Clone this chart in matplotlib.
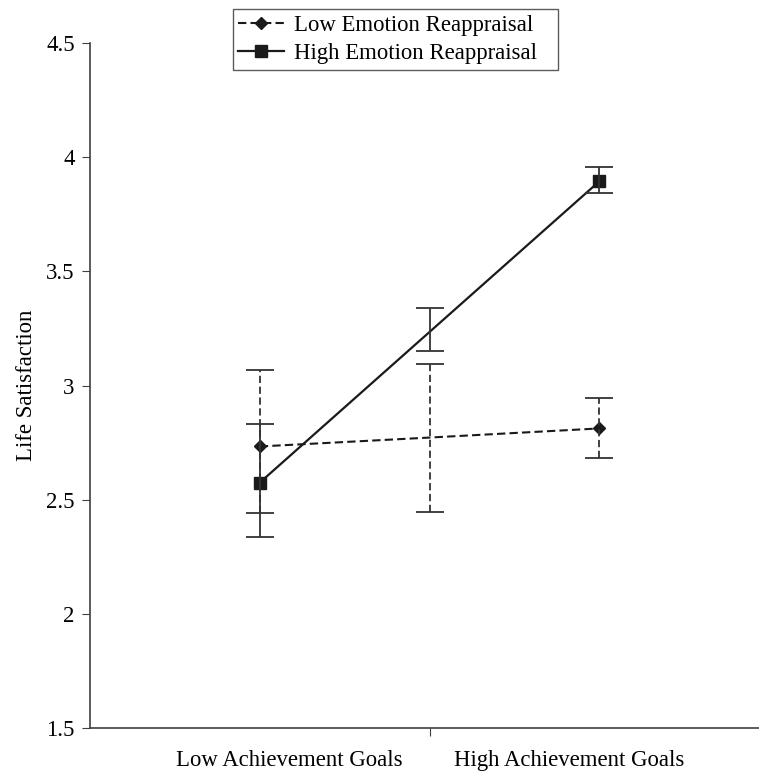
import matplotlib
matplotlib.use("Agg")
import matplotlib.pyplot as plt
import numpy as np

plt.rcParams['font.family'] = ['Liberation Serif', 'DejaVu Serif']

# x positions: low goals, midpoint, high goals
x_pos = [0, 0.5, 1]
categories = ['Low Achievement Goals', 'High Achievement Goals']

# Low emotion reappraisal (dashed)
low_er = [2.733, 2.772, 2.812]
low_er_lo = [2.44, 2.448, 2.681]
low_er_hi = [3.067, 3.096, 2.946]

# High emotion reappraisal (solid)
high_er = [2.575, 3.235, 3.895]
high_er_lo = [2.337, 3.153, 3.844]
high_er_hi = [2.83, 3.340, 3.956]

y_ticks = [1.5, 2, 2.5, 3, 3.5, 4, 4.5]
y_ticklabels = ['1.5', '2', '2.5', '3', '3.5', '4', '4.5']

fs = 16.4

fig = plt.figure(figsize=(7.59, 7.71), dpi=100)
ax = fig.add_axes([0.1186, 0.0558, 0.895, 0.8884])

dark = '#1a1a1a'
ecol = '#333333'

# dashed series
l1, = ax.plot(x_pos, low_er, color=dark, lw=1.5, dashes=(4, 2),
              marker='D', markersize=6, markevery=[0, 2],
              label='Low Emotion Reappraisal')
eb1 = ax.errorbar(x_pos, low_er,
                  yerr=[np.array(low_er) - np.array(low_er_lo),
                        np.array(low_er_hi) - np.array(low_er)],
                  fmt='none', ecolor=ecol, elinewidth=1.3, capsize=10,
                  capthick=1.3)
eb1.lines[2][0].set_linestyle((0, (4, 2)))

# solid series
l2, = ax.plot(x_pos, high_er, color=dark, lw=1.6,
              marker='s', markersize=8, markevery=[0, 2],
              label='High Emotion Reappraisal')
ax.errorbar(x_pos, high_er,
            yerr=[np.array(high_er) - np.array(high_er_lo),
                  np.array(high_er_hi) - np.array(high_er)],
            fmt='none', ecolor=ecol, elinewidth=1.3, capsize=10,
            capthick=1.3)

ax.set_xlim(-0.5, 1.5)
ax.set_ylim(1.5, 4.5)
ax.set_yticks(y_ticks)
ax.set_yticklabels(y_ticklabels, fontsize=fs)
ax.set_xticks([0.5])
ax.set_xticklabels([''])
# category labels sit either side of the middle tick, as in the original
ax.set_xticks([0.088, 0.912], minor=True)
ax.set_xticklabels(categories, minor=True, fontsize=fs)
ax.tick_params(axis='x', which='minor', length=0, pad=16)
ax.tick_params(axis='x', which='major', length=6, color='#404040')
ax.tick_params(axis='y', length=6, color='#404040', pad=5)

for s in ['top', 'right']:
    ax.spines[s].set_visible(False)
for s in ['left', 'bottom']:
    ax.spines[s].set_color('#404040')
    ax.spines[s].set_linewidth(1.2)

ax.set_ylabel('Life Satisfaction', fontsize=fs)
ax.yaxis.set_label_coords(-0.078, 0.5)

leg = fig.legend(handles=[l1, l2], loc='upper left', mode='expand',
                 bbox_to_anchor=(232.7 / 759, 1 - 65.7 / 771,
                                 (558 - 232.7) / 759, 56.2 / 771),
                 fontsize=fs, frameon=True, fancybox=False,
                 borderaxespad=0, handlelength=2.0, handletextpad=0.45,
                 borderpad=0.25, labelspacing=0.3)
leg.get_frame().set_edgecolor('#333333')
leg.get_frame().set_linewidth(1.0)

fig.savefig('out.png', dpi=100)
